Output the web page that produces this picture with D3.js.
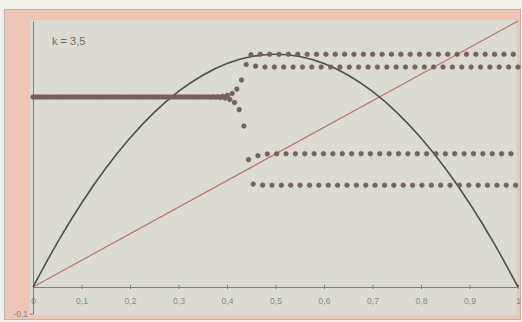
<!DOCTYPE html>
<html>
<head>
<meta charset="utf-8">
<script src="https://cdn.jsdelivr.net/npm/d3@7"></script>
<style>
  html, body { margin: 0; padding: 0; background: #f2f0eb; }
  svg { display: block; }
</style>
</head>
<body>
<svg id="chart" width="522" height="322"></svg>
<script>
// Logistic map, k = 3.5: parabola f(x), the diagonal y = x and the iterates x_n
const kLabel = "k = 3,5";

const xTickValues = [0, 0.1, 0.2, 0.3, 0.4, 0.5, 0.6, 0.7, 0.8, 0.9, 1];
const yTickValues = [-0.1];

// parabola sampled every 0.05
const curveX = [0, 0.05, 0.1, 0.15, 0.2, 0.25, 0.3, 0.35, 0.4, 0.45, 0.5,
                0.55, 0.6, 0.65, 0.7, 0.75, 0.8, 0.85, 0.9, 0.95, 1];
const curveY = [0, 0.16625, 0.315, 0.44625, 0.56, 0.65625, 0.735, 0.79625, 0.84, 0.86625, 0.875,
                0.86625, 0.84, 0.79625, 0.735, 0.65625, 0.56, 0.44625, 0.315, 0.16625, 0];

// the diagonal y = x
const diagonalX = [0, 1];
const diagonalY = [0, 1];

// successive iterates x_n, n = 0 .. 207
const iterates = [
  0.7143, 0.7143, 0.7143, 0.7143, 0.7143, 0.7143, 0.7143, 0.7143, 0.7143, 0.7143,
  0.7143, 0.7143, 0.7143, 0.7143, 0.7143, 0.7143, 0.7143, 0.7143, 0.7143, 0.7143,
  0.7143, 0.7143, 0.7143, 0.7143, 0.7143, 0.7143, 0.7143, 0.7143, 0.7143, 0.7143,
  0.7143, 0.7143, 0.7143, 0.7143, 0.7143, 0.7143, 0.7143, 0.7143, 0.7143, 0.7143,
  0.7143, 0.7143, 0.7143, 0.7143, 0.7143, 0.7143, 0.7143, 0.7143, 0.7143, 0.7143,
  0.7143, 0.7143, 0.7143, 0.7143, 0.7143, 0.7143, 0.7143, 0.7143, 0.7143, 0.7143,
  0.7143, 0.7143, 0.7143, 0.7143, 0.7143, 0.7143, 0.7143, 0.7143, 0.7143, 0.7143,
  0.7143, 0.7143, 0.7143, 0.7143, 0.7143, 0.7143,
  0.7139, 0.7148, 0.7135, 0.7155, 0.7125, 0.7170, 0.7102, 0.7203, 0.7051, 0.7277,
  0.6935, 0.7440, 0.6667, 0.7778, 0.6050, 0.8364, 0.4789, 0.8734, 0.3869, 0.8302,
  0.4933, 0.8748, 0.3832, 0.8273, 0.5001, 0.8750, 0.3828,
  0.8269, 0.5009, 0.8750, 0.3828, 0.8269, 0.5009, 0.8750, 0.3828,
  0.8269, 0.5009, 0.8750, 0.3828, 0.8269, 0.5009, 0.8750, 0.3828,
  0.8269, 0.5009, 0.8750, 0.3828, 0.8269, 0.5009, 0.8750, 0.3828,
  0.8269, 0.5009, 0.8750, 0.3828, 0.8269, 0.5009, 0.8750, 0.3828,
  0.8269, 0.5009, 0.8750, 0.3828, 0.8269, 0.5009, 0.8750, 0.3828,
  0.8269, 0.5009, 0.8750, 0.3828, 0.8269, 0.5009, 0.8750, 0.3828,
  0.8269, 0.5009, 0.8750, 0.3828, 0.8269, 0.5009, 0.8750, 0.3828,
  0.8269, 0.5009, 0.8750, 0.3828, 0.8269, 0.5009, 0.8750, 0.3828,
  0.8269, 0.5009, 0.8750, 0.3828, 0.8269, 0.5009, 0.8750, 0.3828,
  0.8269, 0.5009, 0.8750, 0.3828, 0.8269, 0.5009, 0.8750, 0.3828,
  0.8269, 0.5009, 0.8750, 0.3828, 0.8269, 0.5009, 0.8750, 0.3828,
  0.8269, 0.5009, 0.8750, 0.3828, 0.8269, 0.5009, 0.8750, 0.3828,
  0.8269, 0.5009, 0.8750, 0.3828, 0.8269, 0.5009, 0.8750, 0.3828,
  0.8269
];
// iterate n is placed at x = n / iterateSpan
const iterateSpan = 207;

const svg = d3.select("#chart");
const font = "'Liberation Sans', Arial, sans-serif";

// outer frame and plot background
svg.append("rect")
  .attr("x", 4.5).attr("y", 9.5).attr("width", 516).attr("height", 310)
  .attr("fill", "#efc5b6").attr("stroke", "#bdb4ad").attr("stroke-width", 1);
svg.append("rect")
  .attr("x", 30).attr("y", 20).attr("width", 487).attr("height", 295)
  .attr("fill", "#dcdbd3");

const x = d3.scaleLinear().domain([0, 1]).range([33, 518]);
const y = d3.scaleLinear().domain([-0.1, 1]).range([313.6, 21]);

const locale = d3.formatLocale({ decimal: ",", thousands: ".", grouping: [3], currency: ["", " €"], minus: "-" });
const fmt = v => locale.format("~g")(+v.toFixed(2));

// x axis through y = 0
const xAxis = svg.append("g")
  .attr("transform", `translate(0,${y(0)})`)
  .call(d3.axisBottom(x).tickValues(xTickValues).tickFormat(fmt).tickSizeOuter(0).tickSizeInner(2));
xAxis.select(".domain").attr("stroke", "#7c7f79").attr("stroke-width", 1.2);
xAxis.selectAll(".tick line").attr("y1", -2).attr("y2", 2).attr("stroke", "#7c7f79");
xAxis.selectAll(".tick text")
  .attr("y", 11).attr("fill", "#88877f")
  .style("font-family", font).style("font-size", "8.5px");

// y axis
const yAxis = svg.append("g")
  .attr("transform", `translate(${x(0)},0)`)
  .call(d3.axisLeft(y).tickValues(yTickValues).tickFormat(fmt).tickSizeOuter(0).tickSizeInner(3));
yAxis.select(".domain").attr("stroke", "#7c7f79").attr("stroke-width", 1);
yAxis.selectAll(".tick line").attr("stroke", "#7c7f79");
yAxis.selectAll(".tick text")
  .attr("x", -5).attr("fill", "#88877f")
  .style("font-family", font).style("font-size", "8.5px");

// diagonal
svg.append("path")
  .datum(diagonalX.map((v, i) => [v, diagonalY[i]]))
  .attr("fill", "none").attr("stroke", "#b5776c").attr("stroke-width", 1.2)
  .attr("d", d3.line().x(d => x(d[0])).y(d => y(d[1])));

// parabola
svg.append("path")
  .datum(curveX.map((v, i) => [v, curveY[i]]))
  .attr("fill", "none").attr("stroke", "#4c524b").attr("stroke-width", 1.6)
  .attr("d", d3.line().x(d => x(d[0])).y(d => y(d[1])).curve(d3.curveNatural));

// iterates
svg.append("g")
  .selectAll("circle")
  .data(iterates)
  .join("circle")
  .attr("cx", (d, i) => x(i / iterateSpan))
  .attr("cy", d => y(d))
  .attr("r", 2.3)
  .attr("fill", "#6c6664")
  .attr("stroke", "#7e5144")
  .attr("stroke-width", 0.6);

// parameter label
svg.append("text")
  .attr("x", 52).attr("y", 45)
  .attr("fill", "#6b6b67")
  .style("font-family", font).style("font-size", "11px")
  .text(kLabel);
</script>
</body>
</html>
